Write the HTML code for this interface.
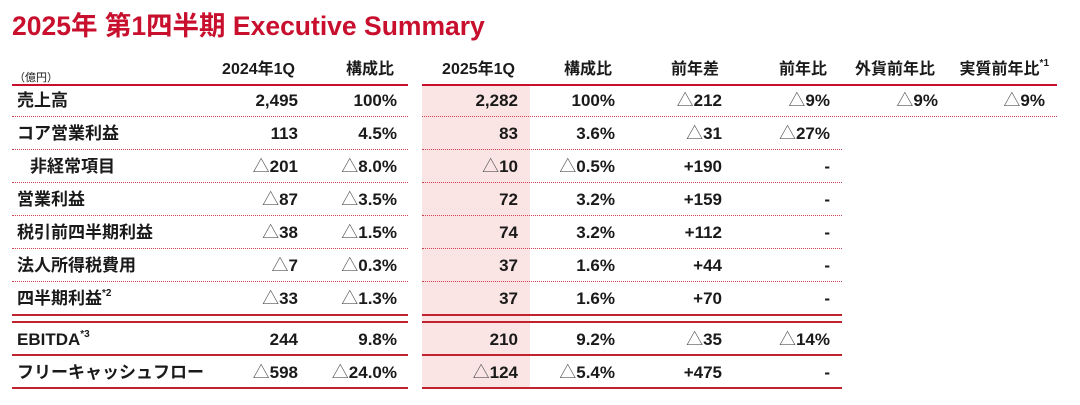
<!DOCTYPE html>
<html><head><meta charset="utf-8">
<style>
body{margin:0;background:#fff;}
#wrap{position:relative;width:1080px;height:405px;overflow:hidden;font-family:"Liberation Sans","Noto Sans CJK JP",sans-serif;color:#1a1a1a;}
.t{position:absolute;white-space:nowrap;font-size:17px;font-weight:bold;line-height:20px;}
.r{text-align:right;}
.tri{font-weight:normal;color:#555;}
.line{position:absolute;height:0;}
sup{font-size:10px;line-height:0;vertical-align:8px;}
</style></head>
<body>
<div id="wrap">
<div class="t" style="left:12px;top:10px;font-size:26.5px;line-height:32px;color:#c8102e;">2025年 第1四半期 Executive Summary</div>
<div id="hl" style="position:absolute;left:422px;top:86px;width:108px;height:302px;background:#fbe4e4;"></div>
</div>
<script>
const rowLabels=["売上高","コア営業利益","非経常項目","営業利益","税引前四半期利益","法人所得税費用","四半期利益","EBITDA","フリーキャッシュフロー"];
const v2024=["2,495","113","△201","△87","△38","△7","△33","244","△598"];
const r2024=["100%","4.5%","△8.0%","△3.5%","△1.5%","△0.3%","△1.3%","9.8%","△24.0%"];
const v2025=["2,282","83","△10","72","74","37","37","210","△124"];
const r2025=["100%","3.6%","△0.5%","3.2%","3.2%","1.6%","1.6%","9.2%","△5.4%"];
const diff=["△212","△31","+190","+159","+112","+44","+70","△35","+475"];
const yoy=["△9%","△27%","-","-","-","-","-","△14%","-"];
const fx=["△9%"];
const real=["△9%"];
const headers=["2024年1Q","構成比","2025年1Q","構成比","前年差","前年比","外貨前年比","実質前年比"];
const wrap=document.getElementById('wrap');
const colRight=[298,397,518,615,722,830,938,1045];
const rowY=[101,134,167,200,233,266,299,340,373];
function fmt(s){return s.replace(/△/g,'<span class="tri">△</span>');}
function txt(html,right,cy,extra){
  const d=document.createElement('div');
  d.className='t r';
  d.style.right=(1080-right)+'px';
  d.style.top=(cy-10)+'px';
  d.innerHTML=fmt(html);
  if(extra)d.style.cssText+=extra;
  wrap.appendChild(d);
  return d;
}
function line(x1,x2,y,style){
  const l=document.createElement('div');
  l.className='line';
  l.style.left=x1+'px';l.style.width=(x2-x1)+'px';l.style.top=y+'px';
  l.style.borderTop=style;
  
  
  wrap.appendChild(l);
}
headers.forEach((h,i)=>{
  const d=txt(h+(i==7?'<sup>*1</sup>':''),colRight[i]-3,70,'font-size:16px;');
  if(i==7){d.style.right=(1080-colRight[i]-4)+'px';}
  
  
});
const unit=document.createElement('div');
unit.className='t';unit.style.cssText+='left:14px;top:68px;font-size:11px;font-weight:normal;';
unit.textContent='（億円）';


wrap.appendChild(unit);
line(12,408,84,'2px solid #c8102e');
line(422,1057,84,'2px solid #c8102e');
const cols=[v2024,r2024,v2025,r2025,diff,yoy,fx,real];
rowLabels.forEach((lab,i)=>{
  const d=document.createElement('div');
  d.className='t';
  d.style.left=(i==2?30:17)+'px';
  d.style.top=(rowY[i]-10)+'px';
  d.innerHTML=lab+(i==6?'<sup>*2</sup>':'')+(i==7?'<sup>*3</sup>':'');
  
  
  wrap.appendChild(d);
  cols.forEach((c,j)=>{
    if(c[i]===undefined)return;
    const e=txt(c[i],colRight[j],rowY[i]);
    
    
  });
});
for(let i=0;i<6;i++){
  const y=116+33*i;
  line(12,408,y,'1px dotted #d04050');
  line(422,i==0?1057:842,y,'1px dotted #d04050');
}
[314,321,354,387].forEach(y=>{
  line(12,408,y,'2px solid #c0222e');
  line(422,842,y,'2px solid #c0222e');
});
</script>
</body></html>
